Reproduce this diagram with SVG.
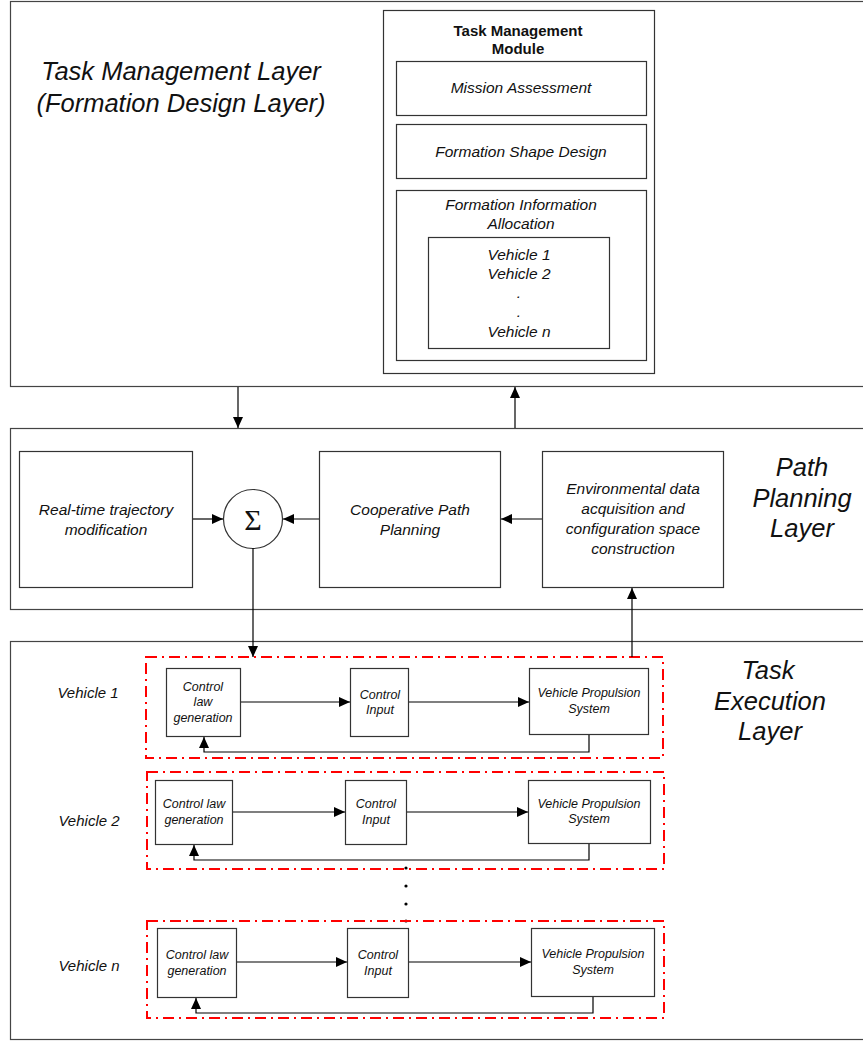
<svg xmlns="http://www.w3.org/2000/svg" width="863" height="1041" viewBox="0 0 863 1041">
<style>
.layer{fill:#fff;stroke:#444;stroke-width:1.2}
.box{fill:#fff;stroke:#333;stroke-width:1.2}
.red{fill:none;stroke:#ff0000;stroke-width:2;stroke-dasharray:11 5 2 5}
.ln{fill:none;stroke:#000;stroke-width:1.2}
text{font-family:"Liberation Sans",Arial,sans-serif;fill:#111;text-anchor:middle}
.big{font-size:25.5px;font-style:italic}
.mid{font-size:15.5px;font-style:italic}
.sm{font-size:12.5px;font-style:italic}
.vl{font-size:15px;font-style:italic}
.bold{font-size:15px;font-weight:bold}
</style>
<defs>
<marker id="ah" markerWidth="12" markerHeight="10" refX="11" refY="5" orient="auto" markerUnits="userSpaceOnUse">
<path d="M0,0 L11,5 L0,10 z" fill="#000"/>
</marker>
</defs>
<rect width="863" height="1041" fill="#fff"/>

<g id="task-management-layer">
<rect class="layer" x="10.5" y="1.5" width="870" height="385"/>
<text class="big" x="181" y="80">Task Management Layer</text>
<text class="big" x="181" y="112">(Formation Design Layer)</text>
</g>

<g id="task-management-module">
<rect class="box" x="383.5" y="10.5" width="271" height="363"/>
<text class="bold" x="518" y="36">Task Management</text>
<text class="bold" x="518" y="54">Module</text>
</g>
<g id="mission-assessment">
<rect class="box" x="396.5" y="61.5" width="250" height="54"/>
<text class="mid" x="521" y="93">Mission Assessment</text>
</g>
<g id="formation-shape-design">
<rect class="box" x="396.5" y="124.5" width="250" height="54"/>
<text class="mid" x="521" y="157">Formation Shape Design</text>
</g>
<g id="formation-information-allocation">
<rect class="box" x="396.5" y="190.5" width="250" height="170"/>
<text class="mid" x="521" y="210">Formation Information</text>
<text class="mid" x="521" y="229">Allocation</text>
</g>
<g id="vehicle-list">
<rect class="box" x="428.5" y="237.5" width="181" height="111"/>
<text class="mid" x="519" y="260">Vehicle 1</text>
<text class="mid" x="519" y="279">Vehicle 2</text>
<text class="mid" x="519" y="298">.</text>
<text class="mid" x="519" y="317">.</text>
<text class="mid" x="519" y="337">Vehicle n</text>
</g>

<g id="path-planning-layer">
<rect class="layer" x="10.5" y="428.5" width="870" height="181"/>
<text class="big" x="802" y="476">Path</text>
<text class="big" x="802" y="507">Planning</text>
<text class="big" x="802" y="537">Layer</text>
</g>
<g id="realtime-trajectory">
<rect class="box" x="19.5" y="451.5" width="173" height="136"/>
<text class="mid" x="106" y="515">Real-time trajectory</text>
<text class="mid" x="106" y="535">modification</text>
</g>
<g id="sum">
<circle cx="253" cy="519" r="29.5" fill="#fff" stroke="#333" stroke-width="1.2"/>
<text x="253" y="530" style="font-family:'Liberation Serif','DejaVu Serif',serif;font-size:30px">Σ</text>
</g>
<g id="cooperative-path-planning">
<rect class="box" x="319.5" y="451.5" width="181" height="136"/>
<text class="mid" x="410" y="515">Cooperative Path</text>
<text class="mid" x="410" y="535">Planning</text>
</g>
<g id="environmental-data">
<rect class="box" x="542.5" y="451.5" width="181" height="136"/>
<text class="mid" x="633" y="494">Environmental data</text>
<text class="mid" x="633" y="514">acquisition and</text>
<text class="mid" x="633" y="534">configuration space</text>
<text class="mid" x="633" y="554">construction</text>
</g>

<g id="task-execution-layer">
<rect class="layer" x="10.5" y="641.5" width="870" height="398"/>
<text class="big" x="768" y="679">Task</text>
<text class="big" x="770" y="710">Execution</text>
<text class="big" x="770" y="740">Layer</text>
</g>

<g id="vehicle-1">
<text class="vl" x="88" y="698">Vehicle 1</text>
<rect class="red" x="146" y="657" width="517" height="101"/>
<rect class="box" x="166.5" y="668.5" width="74" height="68"/>
<text class="sm" x="203" y="691">Control</text>
<text class="sm" x="203" y="706">law</text>
<text class="sm" x="203" y="722">generation</text>
<rect class="box" x="350.5" y="668.5" width="58" height="68"/>
<text class="sm" x="380" y="699">Control</text>
<text class="sm" x="380" y="714">Input</text>
<rect class="box" x="529.5" y="668.5" width="119" height="66"/>
<text class="sm" x="589" y="697">Vehicle Propulsion</text>
<text class="sm" x="589" y="713">System</text>
</g>

<g id="vehicle-2">
<text class="vl" x="89" y="826">Vehicle 2</text>
<rect class="red" x="147" y="772" width="517" height="97"/>
<rect class="box" x="155.5" y="780.5" width="77" height="64"/>
<text class="sm" x="194" y="808">Control law</text>
<text class="sm" x="194" y="824">generation</text>
<rect class="box" x="345.5" y="780.5" width="61" height="64"/>
<text class="sm" x="376" y="808">Control</text>
<text class="sm" x="376" y="824">Input</text>
<rect class="box" x="528.5" y="780.5" width="122" height="63"/>
<text class="sm" x="589" y="808">Vehicle Propulsion</text>
<text class="sm" x="589" y="823">System</text>
</g>

<g id="ellipsis">
<circle cx="406" cy="868" r="1.6" fill="#000"/>
<circle cx="406" cy="886" r="1.6" fill="#000"/>
<circle cx="406" cy="904" r="1.6" fill="#000"/>
<circle cx="406" cy="921" r="1.6" fill="#000"/>
</g>

<g id="vehicle-n">
<text class="vl" x="89" y="971">Vehicle n</text>
<rect class="red" x="147" y="921" width="517" height="97"/>
<rect class="box" x="157.5" y="928.5" width="79" height="69"/>
<text class="sm" x="197" y="959">Control law</text>
<text class="sm" x="197" y="975">generation</text>
<rect class="box" x="347.5" y="928.5" width="61" height="69"/>
<text class="sm" x="378" y="959">Control</text>
<text class="sm" x="378" y="975">Input</text>
<rect class="box" x="531.5" y="928.5" width="123" height="68"/>
<text class="sm" x="593" y="958">Vehicle Propulsion</text>
<text class="sm" x="593" y="974">System</text>
</g>

<g id="connectors">
<path class="ln" d="M238,387 V428" marker-end="url(#ah)"/>
<path class="ln" d="M515,428 V387" marker-end="url(#ah)"/>
<path class="ln" d="M193,519 H223" marker-end="url(#ah)"/>
<path class="ln" d="M319,519 H283" marker-end="url(#ah)"/>
<path class="ln" d="M542,519 H501" marker-end="url(#ah)"/>
<path class="ln" d="M253,548 V657" marker-end="url(#ah)"/>
<path class="ln" d="M632,657 V588" marker-end="url(#ah)"/>
<path class="ln" d="M241,702 H350" marker-end="url(#ah)"/>
<path class="ln" d="M409,702 H529" marker-end="url(#ah)"/>
<path class="ln" d="M589,735 V752 H204 V737" marker-end="url(#ah)"/>
<path class="ln" d="M233,812 H345" marker-end="url(#ah)"/>
<path class="ln" d="M407,812 H528" marker-end="url(#ah)"/>
<path class="ln" d="M589,844 V860 H194 V845" marker-end="url(#ah)"/>
<path class="ln" d="M237,962 H347" marker-end="url(#ah)"/>
<path class="ln" d="M409,962 H531" marker-end="url(#ah)"/>
<path class="ln" d="M593,997 V1013 H196 V998" marker-end="url(#ah)"/>
</g>
</svg>
